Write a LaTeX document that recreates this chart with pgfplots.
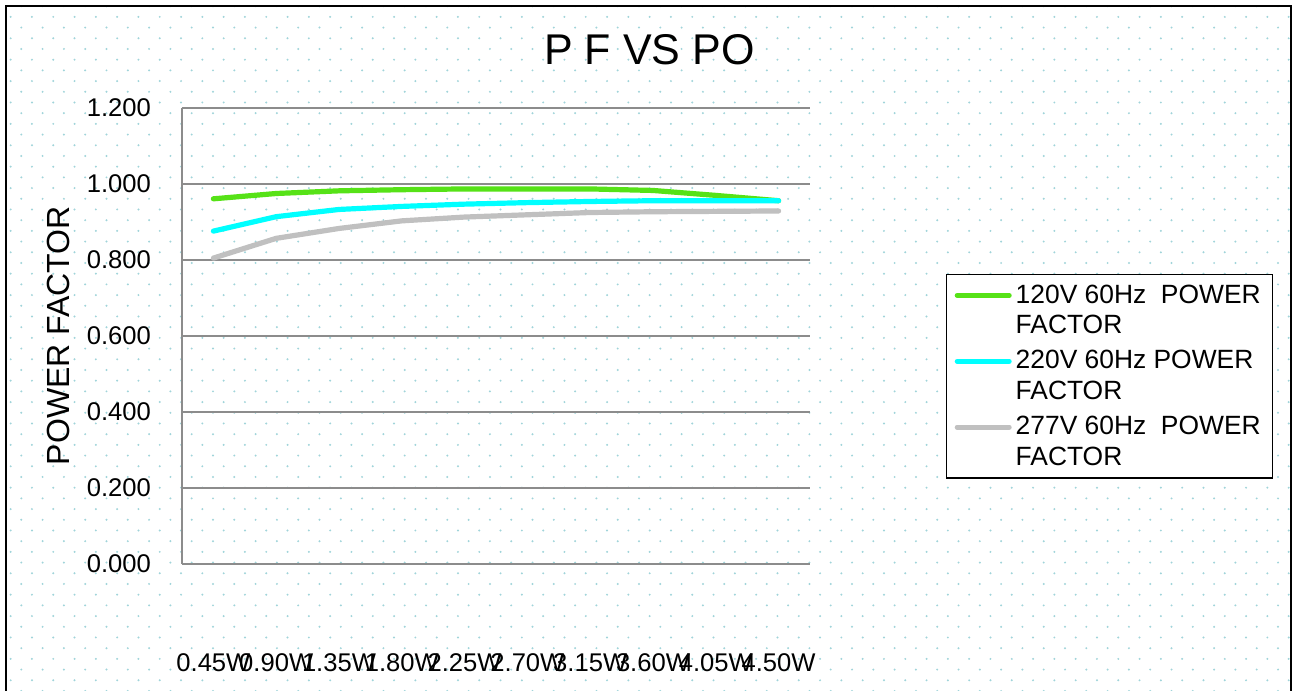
\documentclass[border=0pt]{standalone}
\usepackage{fontspec}
\setmainfont{Liberation Sans}
\usepackage{pgfplots}
\pgfplotsset{compat=1.18}
\usetikzlibrary{patterns}
\definecolor{pfgreen}{RGB}{86,226,23}
\definecolor{pfcyan}{RGB}{0,255,255}
\definecolor{pfgray}{RGB}{192,192,192}
\definecolor{gridgray}{RGB}{140,140,140}
\definecolor{dotcol}{RGB}{160,212,218}
\pgfdeclarepatternformonly{bgdots}{\pgfqpoint{-1pt}{-1pt}}{\pgfqpoint{11pt}{11pt}}{\pgfqpoint{10.65pt}{10.7pt}}{%
  \pgfpathcircle{\pgfqpoint{0pt}{0pt}}{0.55pt}%
  \pgfpathcircle{\pgfqpoint{5.325pt}{5.35pt}}{0.55pt}%
  \pgfusepath{fill}}
\begin{document}
\begin{tikzpicture}
\path[use as bounding box] (-91pt,-63.5pt) rectangle (557.5pt,282pt);
\fill[white] (-91pt,-63.5pt) rectangle (557.5pt,282pt);
\fill[pattern=bgdots, pattern color=dotcol] (-88pt,-66pt) rectangle (554.5pt,279pt);
\draw[black, line width=1pt] (-88pt,-66pt) rectangle (554.5pt,279pt);
\begin{axis}[
  scale only axis, width=314pt, height=228pt,
  at={(0pt,0pt)}, anchor=south west,
  xmin=-0.5, xmax=9.5, ymin=0, ymax=1.2,
  xtick={0,1,2,3,4,5,6,7,8,9},
  xticklabels={0.45W,0.90W,1.35W,1.80W,2.25W,2.70W,3.15W,3.60W,4.05W,4.50W},
  ytick={0,0.2,0.4,0.6,0.8,1.0,1.2},
  scaled y ticks=false,
  ymajorgrids, grid style={gridgray, line width=1pt},
  major tick length=0pt,
  axis x line*=bottom, axis y line*=left,
  axis line style={gridgray, line width=1pt, -},
  tick label style={font=\fontsize{12.8}{15}\selectfont},
  yticklabel style={/pgf/number format/fixed, /pgf/number format/fixed zerofill, /pgf/number format/precision=3, /pgf/number format/assume math mode=true, xshift=-12pt},
  xticklabel style={yshift=-41.3pt},
  ylabel={POWER FACTOR},
  ylabel style={at={(axis description cs:-0.196,0.501)}, anchor=center, font=\fontsize{16}{19}\selectfont},
  title={P F VS PO},
  title style={at={(axis description cs:0.7444,1.1272)}, anchor=center, yshift=-6pt, font=\fontsize{21.5}{25}\selectfont},
  legend style={at={(1.2166,0.636)}, anchor=north west, draw=black, line width=0.7pt, fill=white,
    font=\fontsize{13.2}{15.2}\selectfont, cells={align=left, anchor=west}, row sep=3pt,
    inner xsep=4pt, inner ysep=3pt},
  legend cell align=left,
  legend image code/.code={\path[draw=none] (0pt,-7.6pt) -- (26pt,-7.6pt);
    \draw[#1, line width=2.5pt, line cap=round] (0pt,7.6pt) -- (26pt,7.6pt);},
]
\addplot[pfgreen, line width=2.6pt, line cap=round, line join=round] coordinates {
(0,0.961) (1,0.975) (2,0.982) (3,0.985) (4,0.987) (5,0.987) (6,0.987) (7,0.983) (8,0.970) (9,0.956)};
\addlegendentry{120V 60Hz\ \ POWER\\FACTOR}
\addplot[pfcyan, line width=2.6pt, line cap=round, line join=round] coordinates {
(0,0.876) (1,0.914) (2,0.933) (3,0.941) (4,0.947) (5,0.951) (6,0.954) (7,0.956) (8,0.956) (9,0.956)};
\addlegendentry{220V 60Hz POWER\\FACTOR}
\addplot[pfgray, line width=2.6pt, line cap=round, line join=round] coordinates {
(0,0.805) (1,0.857) (2,0.883) (3,0.903) (4,0.913) (5,0.919) (6,0.925) (7,0.927) (8,0.928) (9,0.929)};
\addlegendentry{277V 60Hz\ \ POWER\\FACTOR}
\end{axis}
\end{tikzpicture}
\end{document}
